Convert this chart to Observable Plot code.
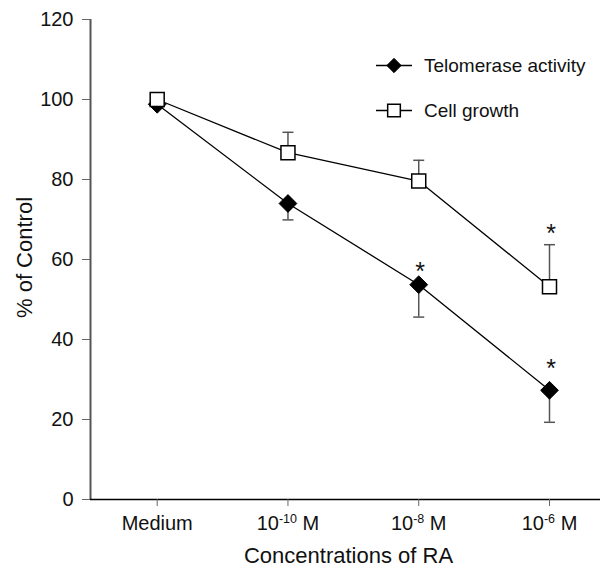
<!DOCTYPE html>
<html><head><meta charset="utf-8">
<script src="https://cdn.jsdelivr.net/npm/d3@7"></script>
<script src="https://cdn.jsdelivr.net/npm/@observablehq/plot@0.6"></script>
<style>
body{margin:0;background:#fff;}
svg{font-family:"Liberation Sans",Arial,Helvetica,sans-serif;}
</style>
</head><body><div id="chart"></div>
<script>
// ---- data ----
const categories = ["Medium", "10^-10 M", "10^-8 M", "10^-6 M"];
const telomerase = [98.8, 74.0, 53.7, 27.3];
const telomeraseErr = [0, 4.1, 8.1, 8.0];       // lower error bars
const cellGrowth = [100, 86.7, 79.6, 53.2];
const cellGrowthErr = [0, 5.1, 5.2, 10.5];      // upper error bars
const yTicks = [0, 20, 40, 60, 80, 100, 120];
const starIndex = [2, 3, 3];
const starValue = [58.5, 68, 34.2];
const seriesNames = ["Telomerase activity", "Cell growth"];
const yLabel = "% of Control";
const xLabel = "Concentrations of RA";

// ---- tables ----
const tele = categories.map((c, i) => ({i, v: telomerase[i], lo: telomerase[i] - telomeraseErr[i], e: telomeraseErr[i]}));
const cell = categories.map((c, i) => ({i, v: cellGrowth[i], hi: cellGrowth[i] + cellGrowthErr[i], e: cellGrowthErr[i]}));
const stars = starIndex.map((i, k) => ({i, y: starValue[k]}));

const capSymbol = {draw(ctx) { ctx.moveTo(-5.5, 0); ctx.lineTo(5.5, 0); }};
const ink = "#111";

const chart = Plot.plot({
  width: 608, height: 570,
  marginLeft: 90, marginRight: 8, marginTop: 19, marginBottom: 71,
  x: {type: "linear", domain: [-0.51, 3.39], axis: null},
  y: {domain: [0, 120], range: [499, 19], axis: null},
  style: {background: "white", fontFamily: '"Liberation Sans",Arial,Helvetica,sans-serif', fontSize: "20px", overflow: "visible"},
  marks: [
    Plot.ruleX([-0.51], {y1: 0, y2: 120, stroke: "#555", strokeWidth: 2}),
    Plot.axisY({ticks: yTicks, tickSize: 8, tickPadding: 9, fontSize: 20, stroke: "#666", fill: ink, label: null, tickFormat: d => String(d)}),
    Plot.ruleY([0], {stroke: "#000", strokeWidth: 1.5}),
    Plot.axisX({ticks: [0, 1, 2, 3], tickSize: 7, tickPadding: 9, fontSize: 20, stroke: "#666", fill: ink, label: null, tickFormat: i => categories[i]}),
    Plot.line(tele, {x: "i", y: "v", stroke: "#000", strokeWidth: 1.3}),
    Plot.line(cell, {x: "i", y: "v", stroke: "#000", strokeWidth: 1.3}),
    Plot.ruleX(tele.filter(d => d.e > 0), {x: "i", y1: "v", y2: "lo", stroke: "#555", strokeWidth: 1.5}),
    Plot.dot(tele.filter(d => d.e > 0), {x: "i", y: "lo", symbol: capSymbol, stroke: "#555", strokeWidth: 1.5, r: 3}),
    Plot.ruleX(cell.filter(d => d.e > 0), {x: "i", y1: "v", y2: "hi", stroke: "#555", strokeWidth: 1.5}),
    Plot.dot(cell.filter(d => d.e > 0), {x: "i", y: "hi", symbol: capSymbol, stroke: "#555", strokeWidth: 1.5, r: 3}),
    Plot.dot(tele, {x: "i", y: "v", symbol: "diamond2", r: 8, fill: "#000", stroke: "#000", strokeWidth: 1}),
    Plot.dot(cell, {x: "i", y: "v", symbol: "square", r: 7.9, fill: "#fff", stroke: "#000", strokeWidth: 1.5}),
    Plot.text(stars, {x: "i", y: "y", text: () => "*", fontSize: 25, dy: 6, dx: 1.5, fill: ink}),
    Plot.text([xLabel], {frameAnchor: "bottom", dy: 63, dx: 3, fontSize: 22, fill: ink})
  ]
});

document.getElementById("chart").appendChild(chart);
const svg = d3.select(chart.tagName.toLowerCase() === "svg" ? chart : chart.querySelector("svg"));

// tick label size
svg.selectAll('g[aria-label="x-axis tick label"], g[aria-label="y-axis tick label"]').attr("font-size", 20);

// superscripts on x tick labels
svg.selectAll('g[aria-label="x-axis tick label"] text').each(function () {
  const t = this.textContent;
  const m = /^10\^(-?\d+) M$/.exec(t);
  if (!m) return;
  const el = d3.select(this);
  el.text(null);
  el.append("tspan").text("10");
  el.append("tspan").attr("font-size", 12.5).attr("dy", -6.5).text(m[1]);
  el.append("tspan").attr("dy", 6.5).text(" M");
});

// y axis title
svg.append("text").attr("transform", "translate(31.5,257.5) rotate(-90)")
  .attr("text-anchor", "middle").attr("font-size", 22).attr("fill", ink).text(yLabel);

// legend
const lg = svg.append("g").attr("fill", ink).attr("font-size", 19).attr("text-anchor", "start");
const rows = [
  {name: seriesNames[0], y: 65.5, sym: d3.symbolDiamond2, size: 130, fill: "#000", sw: 1},
  {name: seriesNames[1], y: 110.5, sym: d3.symbolSquare, size: 160, fill: "#fff", sw: 1.5}
];
rows.forEach(r => {
  lg.append("line").attr("x1", 376).attr("x2", 412).attr("y1", r.y).attr("y2", r.y).attr("stroke", "#000").attr("stroke-width", 1.3);
  lg.append("path").attr("d", d3.symbol(r.sym, r.size)()).attr("transform", `translate(394,${r.y})`)
    .attr("fill", r.fill).attr("stroke", "#000").attr("stroke-width", r.sw);
  lg.append("text").attr("x", 424).attr("y", r.y + 6.8).attr("text-anchor", "start").text(r.name);
});
</script>
</body></html>
